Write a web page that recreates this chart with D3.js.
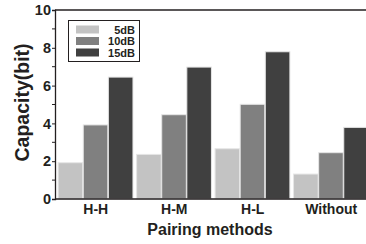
<!DOCTYPE html>
<html><head><meta charset="utf-8">
<script src="https://cdn.jsdelivr.net/npm/d3@7"></script>
<style>body{margin:0;background:#fff;}svg{display:block;font-family:"Liberation Sans",Arial,sans-serif;font-weight:bold;}</style>
</head><body><svg id="c" width="366" height="244"></svg>
<script>
const categories = ["H-H","H-M","H-L","Without"];
const seriesNames = ["5dB","10dB","15dB"];
const s5 = [1.92, 2.36, 2.66, 1.32];
const s10 = [3.92, 4.46, 5.01, 2.45];
const s15 = [6.45, 6.98, 7.79, 3.79];
const yTicks = [0,2,4,6,8,10];
const colors = ["#c3c3c3","#808080","#404040"];

const series = [s5, s10, s15];
const svg = d3.select("#c");
const m = {l:55, t:10, b:199, r:372};
const y = d3.scaleLinear().domain([0,10]).range([m.b, m.t]);
const x0 = d3.scaleBand().domain(categories).range([m.l, m.r]).paddingInner(0.04).paddingOuter(0.04);
const x1 = d3.scaleBand().domain(seriesNames).range([0, x0.bandwidth()]);

const g = svg.append("g");
categories.forEach((c, ci) => {
  seriesNames.forEach((s, si) => {
    const v = series[si][ci];
    g.append("rect")
      .attr("x", x0(c) + x1(s))
      .attr("y", y(v))
      .attr("width", x1.bandwidth() - 0.5)
      .attr("height", y(0) - y(v))
      .attr("fill", colors[si])
      .attr("stroke", "#e6e6e6")
      .attr("stroke-width", 1);
  });
});

// frame lines
svg.append("line").attr("x1", m.l).attr("x2", 366).attr("y1", m.t).attr("y2", m.t).attr("stroke", "#231f20").attr("stroke-width", 1.3);
svg.append("line").attr("x1", m.l).attr("x2", 366).attr("y1", m.b).attr("y2", m.b).attr("stroke", "#231f20").attr("stroke-width", 1.3);

// y axis
const yAxis = d3.axisLeft(y).tickValues(yTicks).tickSize(3).tickPadding(1);
const ya = svg.append("g").attr("transform", `translate(${m.l},0)`).call(yAxis);
ya.select(".domain").attr("stroke", "#231f20").attr("stroke-width", 1.3);
ya.selectAll("text").attr("font-size", 14.5).attr("font-weight", "bold").attr("fill", "#231f20").attr("font-family", "Liberation Sans, Arial, sans-serif");
ya.selectAll(".tick line").attr("stroke", "#231f20");
const minor = d3.range(1, 10, 2);
svg.append("g").selectAll("line").data(minor).join("line")
  .attr("x1", m.l - 3).attr("x2", m.l).attr("y1", d => y(d)).attr("y2", d => y(d)).attr("stroke", "#231f20");

// x labels
svg.append("g").selectAll("text").data(categories).join("text")
  .attr("x", d => x0(d) + x0.bandwidth()/2)
  .attr("y", 214)
  .attr("text-anchor", "middle")
  .attr("font-size", 14)
  .attr("fill", "#231f20")
  .text(d => d);

// axis titles
svg.append("text").attr("x", 210).attr("y", 235).attr("text-anchor", "middle").attr("font-size", 16).attr("fill", "#231f20").text("Pairing methods");
svg.append("text").attr("transform", "translate(28.5,102.5) rotate(-90)").attr("text-anchor", "middle").attr("font-size", 19.5).attr("fill", "#231f20").text("Capacity(bit)");

// legend
const lg = svg.append("g");
lg.append("rect").attr("x", 68.5).attr("y", 20.5).attr("width", 71).attr("height", 41).attr("fill", "#fff").attr("stroke", "#231f20").attr("stroke-width", 1);
seriesNames.forEach((s, i) => {
  const yy = 25.5 + i * 11.5;
  lg.append("rect").attr("x", 76).attr("y", yy).attr("width", 23).attr("height", 8).attr("fill", colors[i]);
  lg.append("text").attr("x", 135).attr("y", yy + 8).attr("text-anchor", "end").attr("font-size", 11).attr("fill", "#231f20").text(s);
});
</script></body></html>
